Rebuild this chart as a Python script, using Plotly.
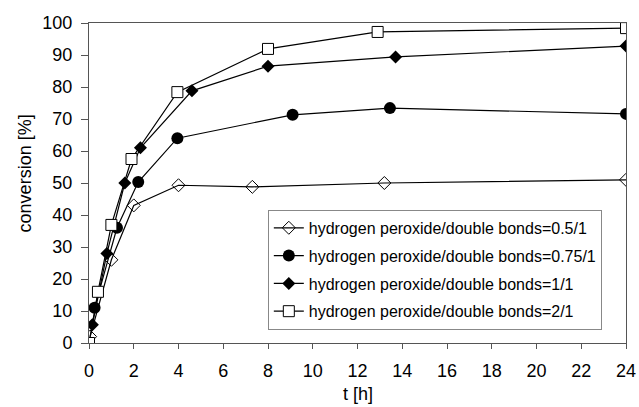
import plotly.graph_objects as go

t_05 = [0.05, 1.0, 2.0, 4.0, 7.3, 13.2, 24.0]
c_05 = [2.0, 26.0, 43.0, 49.3, 48.8, 50.0, 51.0]

t_075 = [0.25, 1.25, 2.2, 3.95, 9.1, 13.45, 24.0]
c_075 = [11.0, 36.0, 50.3, 64.0, 71.3, 73.4, 71.6]

t_1 = [0.15, 0.8, 1.6, 2.3, 4.6, 8.0, 13.7, 24.0]
c_1 = [5.7, 28.0, 50.0, 61.0, 78.8, 86.5, 89.4, 92.8]

t_2 = [0.0, 0.4, 1.0, 1.9, 3.95, 8.0, 12.9, 24.0]
c_2 = [0.0, 16.0, 36.9, 57.5, 78.4, 91.9, 97.2, 98.4]

names = [
    "hydrogen peroxide/double bonds=0.5/1",
    "hydrogen peroxide/double bonds=0.75/1",
    "hydrogen peroxide/double bonds=1/1",
    "hydrogen peroxide/double bonds=2/1",
]
x_title = "t [h]"
y_title = "conversion [%]"
x_ticks = list(range(0, 25, 2))
y_ticks = list(range(0, 101, 10))

series = [
    (t_05, c_05, dict(symbol="diamond-open", size=10, color="black", line=dict(width=1))),
    (t_075, c_075, dict(symbol="circle", size=12, color="black")),
    (t_1, c_1, dict(symbol="diamond", size=10, color="black")),
    (t_2, c_2, dict(symbol="square", size=11, color="white", line=dict(color="black", width=1))),
]

fig = go.Figure()
for i, ((x, y, mk), nm) in enumerate(zip(series, names)):
    fig.add_trace(go.Scatter(
        x=x, y=y, name=nm, mode="lines+markers",
        line=dict(color="black", width=1.2),
        marker=mk, legendgroup=str(i),
    ))

font = "Liberation Sans, Arial, sans-serif"
fig.update_layout(
    width=639, height=407,
    margin=dict(l=89, r=13, t=23, b=64),
    paper_bgcolor="white", plot_bgcolor="white",
    font=dict(family=font, color="black", size=18),
    showlegend=True,
    legend=dict(
        x=0.333, y=0.416, xanchor="left", yanchor="top",
        bordercolor="#888", borderwidth=1, bgcolor="white",
        font=dict(size=16, family=font), itemwidth=30,
        tracegroupgap=4,
    ),
    xaxis=dict(
        range=[0, 24], tickvals=x_ticks, ticks="outside", ticklen=5,
        tickcolor="#555", showgrid=False, zeroline=False,
        showline=True, linecolor="#555", linewidth=1, mirror=True,
        ticklabelstandoff=6, automargin=False,
        tickfont=dict(size=18),
    ),
    yaxis=dict(
        range=[0, 100], tickvals=y_ticks, ticks="outside", ticklen=7,
        tickcolor="#555", showgrid=False, zeroline=False,
        showline=True, linecolor="#555", linewidth=1, mirror=True,
        ticklabelstandoff=5, automargin=False,
        tickfont=dict(size=18),
    ),
    annotations=[
        dict(text=x_title, xref="paper", yref="paper", x=0.5, y=0,
             xanchor="center", yanchor="middle", yshift=-51, showarrow=False,
             font=dict(size=18)),
        dict(text=y_title, xref="paper", yref="paper", x=0, y=0.53,
             xanchor="center", yanchor="middle", xshift=-64, textangle=-90,
             showarrow=False, font=dict(size=18)),
    ],
)
fig.write_html("out.html")
